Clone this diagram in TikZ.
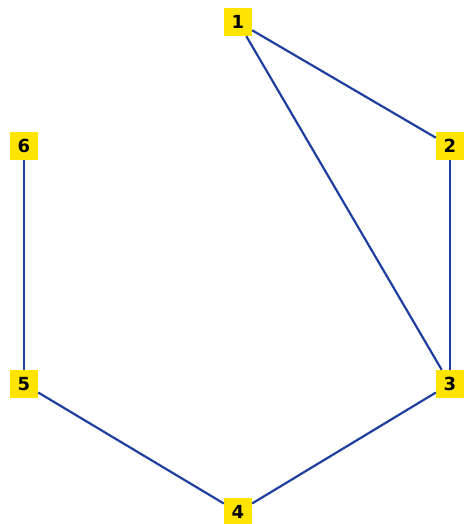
\documentclass[tikz,border=0pt]{standalone}
\usepackage{fontspec}
\setmainfont{DejaVu Sans}
\definecolor{boxfill}{HTML}{FFE400}
\definecolor{edgeblue}{HTML}{1E3FA0}
\tikzset{
  vbox/.style={fill=boxfill, draw=none, minimum width=28pt, minimum height=28pt,
    inner sep=0pt, font=\bfseries\fontsize{18pt}{18pt}\selectfont, text=black},
  link/.style={draw=edgeblue, line width=2.2pt}
}
\begin{document}
\begin{tikzpicture}[x=1pt,y=-1pt]
  \useasboundingbox (0,0) rectangle (470,524);
  \node[vbox] (n1) at (238,22) {1};
  \node[vbox] (n2) at (450,146) {2};
  \node[vbox] (n3) at (450,384) {3};
  \node[vbox] (n4) at (238,512) {4};
  \node[vbox] (n5) at (24,384) {5};
  \node[vbox] (n6) at (24,146) {6};
  \draw[link] (n1) -- (n2);
  \draw[link] (n1) -- (n3);
  \draw[link] (n2) -- (n3);
  \draw[link] (n3) -- (n4);
  \draw[link] (n4) -- (n5);
  \draw[link] (n5) -- (n6);
\end{tikzpicture}
\end{document}
